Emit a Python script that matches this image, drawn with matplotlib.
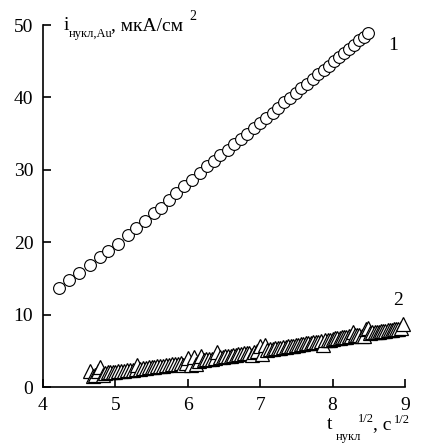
import matplotlib
matplotlib.use("Agg")
import matplotlib.pyplot as plt

plt.rcParams['font.family'] = ['Liberation Serif', 'DejaVu Serif']

# curve 1 (circles)
x1 = [4.22, 4.36, 4.50, 4.65, 4.79, 4.90, 5.04, 5.17, 5.29, 5.41,
      5.53, 5.63, 5.74, 5.84, 5.95, 6.06, 6.17, 6.27, 6.36, 6.45,
      6.55, 6.64, 6.73, 6.82, 6.91, 7.00, 7.08, 7.17, 7.25, 7.33,
      7.41, 7.49, 7.57, 7.65, 7.73, 7.80, 7.88, 7.95, 8.02, 8.09,
      8.16, 8.23, 8.30, 8.37, 8.43, 8.49]
y1 = [13.7, 14.8, 15.7, 16.8, 17.9, 18.8, 19.8, 21.0, 21.9, 22.9,
      24.0, 24.7, 25.8, 26.8, 27.7, 28.6, 29.6, 30.5, 31.2, 32.0,
      32.8, 33.5, 34.3, 35.0, 35.8, 36.5, 37.2, 37.9, 38.6, 39.3,
      39.9, 40.6, 41.3, 41.9, 42.6, 43.2, 43.8, 44.4, 45.0, 45.6,
      46.2, 46.7, 47.3, 47.9, 48.4, 48.9]

# curve 2 (triangles)
x2 = [4.65, 4.69, 4.72, 4.76, 4.79, 4.83, 4.86, 4.90, 4.93, 4.97, 5.00,
      5.04, 5.08, 5.12, 5.16, 5.20, 5.24, 5.28, 5.30, 5.34, 5.38, 5.42,
      5.46, 5.50, 5.54, 5.58, 5.62, 5.66, 5.70, 5.74, 5.78, 5.82, 5.86,
      5.90, 5.94, 5.97, 6.00,
      6.04, 6.08, 6.11, 6.15, 6.18, 6.22, 6.25, 6.29, 6.33, 6.37, 6.40,
      6.44, 6.48, 6.52, 6.55, 6.59, 6.63, 6.67, 6.70, 6.74, 6.78, 6.82,
      6.85, 6.89, 6.92, 6.96, 7.00,
      7.03, 7.07, 7.10, 7.14, 7.17, 7.21, 7.24, 7.28, 7.31, 7.35, 7.38,
      7.42, 7.45, 7.49, 7.52, 7.56, 7.59, 7.63, 7.66, 7.70, 7.73, 7.77,
      7.80, 7.84, 7.87, 7.90, 7.94, 7.97, 8.00,
      8.03, 8.06, 8.10, 8.13, 8.16, 8.19, 8.22, 8.25, 8.28, 8.31, 8.34,
      8.37, 8.40, 8.43, 8.46, 8.49, 8.52, 8.55, 8.58, 8.61, 8.64, 8.67,
      8.70, 8.73, 8.76, 8.79, 8.82, 8.85, 8.88, 8.91, 8.94, 8.97]
y2 = [2.2, 1.5, 1.6, 2.2, 2.7, 1.7, 2.0, 2.02, 2.04, 2.07, 2.1,
      2.15, 2.20, 2.26, 2.31, 2.36, 2.41, 2.46, 3.1, 2.54, 2.60, 2.65,
      2.70, 2.75, 2.80, 2.85, 2.91, 2.96, 3.01, 3.06, 3.11, 3.16, 3.22,
      3.27, 3.0, 3.36, 4.0,
      3.0, 4.1, 3.2, 3.64, 4.3, 3.76, 3.80, 3.86, 3.92, 3.99, 4.9,
      4.10, 4.17, 4.23, 4.28, 4.34, 4.41, 4.47, 4.52, 4.58, 4.65, 4.71,
      4.76, 4.4, 4.87, 4.94, 5.7,
      4.6, 5.8, 5.16, 5.22, 5.27, 5.34, 5.38, 5.45, 5.50, 5.56, 5.61,
      5.67, 5.72, 5.78, 5.83, 5.90, 5.94, 6.01, 6.06, 6.12, 6.17, 6.24,
      6.28, 6.34, 5.85, 6.43, 6.50, 6.55, 6.60,
      6.70, 6.74, 6.80, 6.84, 6.89, 6.94, 6.98, 7.03, 7.6, 7.12, 7.16,
      7.21, 7.0, 7.0, 8.0, 8.1, 7.48, 7.53, 7.58, 7.62, 7.66, 7.71,
      7.75, 7.80, 7.84, 7.89, 7.93, 7.98, 8.02, 8.07, 8.11, 8.7]

W, H = 433, 443
fig = plt.figure(figsize=(W / 100, H / 100), dpi=100)
ax = fig.add_axes([43 / W, 1 - 387 / H, 362 / W, 362 / H])

ax.plot(x1, y1, 'o', ms=8.5, mfc='white', mec='black', mew=0.8, clip_on=False)
ax.plot(x2, y2, '^', ms=9.5, mfc='white', mec='black', mew=0.9, clip_on=False)

ax.set_xlim(4, 9)
ax.set_ylim(0, 50)
ax.set_xticks([4, 5, 6, 7, 8, 9])
ax.set_yticks([0, 10, 20, 30, 40, 50])
for s in ['top', 'right']:
    ax.spines[s].set_visible(False)
for s in ['left', 'bottom']:
    ax.spines[s].set_linewidth(1.2)
ax.tick_params(direction='in', length=6, width=1.2, labelsize=14)
ax.tick_params(axis='x', pad=7)
ax.tick_params(axis='y', pad=7)

ax.text(8.83, 47.2, '1', fontsize=14, ha='center', va='center')
ax.text(8.9, 12.0, '2', fontsize=14, ha='center', va='center')


def ftext(px, py, s, size):
    fig.text(px / W, 1 - py / H, s, fontsize=size, ha='left', va='baseline')


# y axis title
ftext(64, 30, 'i', 14)
ftext(69, 37, 'нукл,Au', 9)
ftext(111, 30, ', мкА/см', 14)
ftext(189, 20, '2', 10)

# x axis title
ftext(327, 429, 't', 14)
ftext(336, 440, 'нукл', 9)
ftext(358, 422, '1/2', 9)
ftext(373, 429, ', с', 14)
ftext(394, 423, '1/2', 9)

fig.savefig('out.png', dpi=100)
